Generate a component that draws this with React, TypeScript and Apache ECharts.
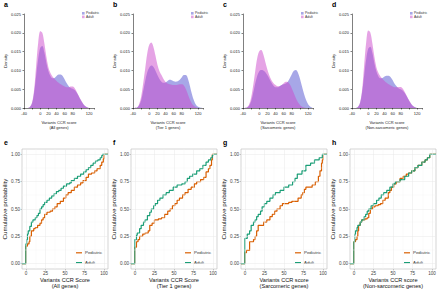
import React, { useEffect, useRef } from "react";
import * as echarts from "echarts";

// ---------- Density panels (a-d) ----------
const densityX = [-35, -30, -25, -20, -15, -10, -5, 0, 5, 10, 15, 20, 25, 30, 35, 40, 45, 50, 55, 60, 65, 70, 75, 80, 85, 90, 95, 100, 105, 110, 115, 120, 125, 130];

const aPediatric = [0, 0, 0.0003, 0.0013, 0.0042, 0.0088, 0.0132, 0.016, 0.0165, 0.0148, 0.012, 0.0098, 0.0085, 0.0079, 0.008, 0.0085, 0.0089, 0.0089, 0.0085, 0.0076, 0.0066, 0.0058, 0.0053, 0.0051, 0.0047, 0.004, 0.003, 0.002, 0.0011, 0.0005, 0.0002, 0, 0, 0];
const aAdult = [0, 0, 0.0003, 0.0015, 0.005, 0.0115, 0.0175, 0.0204, 0.02, 0.0172, 0.0136, 0.0108, 0.0093, 0.0084, 0.0077, 0.0072, 0.0067, 0.0063, 0.006, 0.0057, 0.0055, 0.0055, 0.0057, 0.0057, 0.0052, 0.0042, 0.0031, 0.0021, 0.0012, 0.0005, 0.0002, 0, 0, 0];

const bPediatric = [0, 0.0001, 0.0007, 0.002, 0.0045, 0.0072, 0.0095, 0.0108, 0.0113, 0.011, 0.01, 0.0088, 0.0077, 0.007, 0.0067, 0.0068, 0.0072, 0.0075, 0.0074, 0.0071, 0.007, 0.0071, 0.0075, 0.0082, 0.0088, 0.0088, 0.0078, 0.0058, 0.0036, 0.0019, 0.0008, 0.0003, 0.0001, 0];
const bAdult = [0, 0.0001, 0.001, 0.003, 0.0065, 0.0105, 0.0145, 0.0168, 0.0174, 0.0163, 0.014, 0.0115, 0.0098, 0.0088, 0.0077, 0.0069, 0.0065, 0.0063, 0.0062, 0.0061, 0.0061, 0.0062, 0.0063, 0.0063, 0.006, 0.005, 0.0036, 0.0022, 0.0011, 0.0005, 0.0002, 0, 0, 0];

const cPediatric = [0, 0.0001, 0.0006, 0.0018, 0.004, 0.0065, 0.0086, 0.0098, 0.0101, 0.01, 0.0095, 0.0087, 0.0077, 0.0067, 0.0059, 0.0055, 0.0055, 0.0058, 0.0061, 0.0063, 0.0065, 0.007, 0.0079, 0.009, 0.0099, 0.0101, 0.0094, 0.0078, 0.0057, 0.0037, 0.0021, 0.001, 0.0004, 0.0001];
const cAdult = [0, 0.0002, 0.0009, 0.0028, 0.006, 0.0098, 0.0133, 0.0151, 0.0154, 0.0142, 0.0122, 0.0102, 0.0086, 0.0074, 0.0066, 0.0061, 0.0058, 0.0058, 0.0061, 0.0066, 0.007, 0.0069, 0.0063, 0.0052, 0.0039, 0.0026, 0.0015, 0.0008, 0.0003, 0.0001, 0, 0, 0, 0];

const dPediatric = [0, 0, 0.0003, 0.0014, 0.0043, 0.0088, 0.0131, 0.0158, 0.0163, 0.0147, 0.0119, 0.0097, 0.0084, 0.0079, 0.008, 0.0084, 0.0086, 0.0086, 0.0082, 0.0074, 0.0064, 0.0057, 0.0052, 0.005, 0.0046, 0.0039, 0.003, 0.002, 0.0011, 0.0005, 0.0002, 0, 0, 0];
const dAdult = [0, 0, 0.0003, 0.0015, 0.005, 0.0116, 0.0176, 0.0206, 0.0201, 0.0172, 0.0136, 0.0108, 0.0093, 0.0084, 0.0077, 0.0072, 0.0067, 0.0063, 0.006, 0.0057, 0.0055, 0.0055, 0.0056, 0.0056, 0.0051, 0.0042, 0.0031, 0.0021, 0.0012, 0.0005, 0.0002, 0, 0, 0];

const densityTickLabels = [-40, 0, 20, 40, 60, 80, 120];

// ---------- ECDF panels (e-h) ----------
const ePediatric = [[-5, 0], [0, 0.16], [2, 0.18], [4, 0.2], [5, 0.25], [7, 0.3], [10, 0.32], [12, 0.33], [15, 0.35], [18, 0.37], [20, 0.4], [22, 0.42], [24, 0.45], [27, 0.47], [31, 0.48], [34, 0.5], [37, 0.52], [40, 0.55], [44, 0.57], [48, 0.6], [51, 0.63], [54, 0.65], [58, 0.67], [62, 0.7], [66, 0.72], [70, 0.74], [73, 0.76], [77, 0.79], [80, 0.82], [84, 0.83], [88, 0.85], [91, 0.87], [95, 0.9], [97, 0.93], [99, 0.96], [100, 1], [105, 1]];
const eAdult = [[-5, 0], [0, 0.18], [1, 0.22], [2, 0.27], [3, 0.3], [5, 0.34], [7, 0.38], [9, 0.4], [12, 0.42], [14, 0.44], [16, 0.46], [18, 0.5], [20, 0.52], [22, 0.54], [24, 0.56], [27, 0.58], [30, 0.6], [33, 0.62], [36, 0.64], [39, 0.66], [42, 0.67], [45, 0.69], [48, 0.71], [52, 0.73], [56, 0.74], [58, 0.76], [62, 0.78], [66, 0.8], [70, 0.82], [74, 0.84], [77, 0.86], [80, 0.88], [83, 0.9], [86, 0.92], [89, 0.94], [92, 0.95], [95, 0.97], [97, 0.99], [98, 1], [105, 1]];

const fPediatric = [[-5, 0], [0, 0.15], [2, 0.2], [4, 0.22], [6, 0.25], [10, 0.27], [13, 0.28], [17, 0.3], [19, 0.35], [22, 0.37], [25, 0.4], [30, 0.41], [34, 0.42], [38, 0.45], [42, 0.48], [45, 0.5], [48, 0.53], [51, 0.55], [54, 0.58], [57, 0.6], [61, 0.63], [64, 0.65], [68, 0.68], [72, 0.7], [76, 0.73], [79, 0.75], [84, 0.77], [88, 0.79], [91, 0.84], [94, 0.87], [96, 0.9], [98, 0.95], [99, 1], [105, 1]];
const fAdult = [[-5, 0], [0, 0.22], [2, 0.26], [3, 0.28], [6, 0.32], [8, 0.35], [11, 0.38], [13, 0.4], [16, 0.44], [19, 0.47], [21, 0.5], [24, 0.53], [26, 0.55], [29, 0.58], [32, 0.6], [36, 0.63], [40, 0.65], [44, 0.67], [49, 0.7], [54, 0.72], [60, 0.73], [64, 0.75], [67, 0.78], [70, 0.8], [74, 0.82], [79, 0.85], [83, 0.87], [87, 0.9], [91, 0.93], [94, 0.95], [97, 0.97], [99, 0.99], [100, 1], [105, 1]];

const gPediatric = [[-5, 0], [0, 0.1], [2, 0.12], [6, 0.2], [11, 0.22], [13, 0.25], [15, 0.3], [17, 0.35], [24, 0.38], [28, 0.4], [32, 0.43], [35, 0.45], [38, 0.48], [41, 0.5], [45, 0.53], [48, 0.55], [56, 0.56], [60, 0.57], [68, 0.6], [72, 0.63], [74, 0.65], [76, 0.68], [78, 0.7], [86, 0.72], [90, 0.75], [94, 0.8], [96, 0.85], [98, 0.92], [99, 0.95], [100, 1], [105, 1]];
const gAdult = [[-5, 0], [0, 0.23], [3, 0.27], [6, 0.3], [8, 0.35], [11, 0.38], [13, 0.4], [15, 0.43], [17, 0.45], [20, 0.48], [22, 0.52], [25, 0.55], [28, 0.57], [32, 0.6], [36, 0.63], [39, 0.65], [45, 0.67], [50, 0.7], [56, 0.72], [61, 0.75], [64, 0.78], [67, 0.82], [73, 0.85], [78, 0.9], [84, 0.92], [89, 0.95], [95, 0.97], [99, 1], [105, 1]];

const hPediatric = [[-5, 0], [0, 0.2], [2, 0.22], [4, 0.25], [5, 0.3], [6, 0.35], [8, 0.38], [10, 0.4], [14, 0.41], [17, 0.42], [19, 0.46], [21, 0.5], [24, 0.52], [27, 0.53], [31, 0.54], [34, 0.55], [37, 0.58], [40, 0.6], [44, 0.65], [46, 0.67], [48, 0.7], [51, 0.73], [54, 0.75], [59, 0.78], [63, 0.8], [67, 0.82], [70, 0.83], [74, 0.85], [78, 0.88], [82, 0.9], [87, 0.93], [91, 0.95], [94, 0.97], [97, 1], [105, 1]];
const hAdult = [[-5, 0], [0, 0.2], [1, 0.27], [2, 0.3], [4, 0.33], [5, 0.35], [8, 0.38], [10, 0.4], [13, 0.43], [15, 0.45], [17, 0.48], [19, 0.5], [22, 0.53], [25, 0.55], [29, 0.58], [32, 0.6], [35, 0.63], [38, 0.65], [42, 0.67], [46, 0.7], [50, 0.73], [53, 0.75], [59, 0.77], [65, 0.8], [70, 0.83], [74, 0.85], [78, 0.88], [82, 0.9], [87, 0.93], [91, 0.95], [94, 0.97], [97, 1], [105, 1]];

const ecdfXTicks = [0, 25, 50, 75, 100];
const ecdfYTicks = [0, 0.25, 0.5, 0.75, 1];
const ecdfXMinor = [12.5, 37.5, 62.5, 87.5];
const ecdfYMinor = [0.125, 0.375, 0.625, 0.875];

const topPanels = [
  { letter: "a", sub: "(All genes)", ped: aPediatric, adult: aAdult },
  { letter: "b", sub: "(Tier 1 genes)", ped: bPediatric, adult: bAdult },
  { letter: "c", sub: "(Sarcomeric genes)", ped: cPediatric, adult: cAdult },
  { letter: "d", sub: "(Non-sarcomeric genes)", ped: dPediatric, adult: dAdult },
];
const bottomPanels = [
  { letter: "e", title: "Variants CCR Score", sub: "(All genes)", ped: ePediatric, adult: eAdult },
  { letter: "f", title: "Variants CCR Score", sub: "(Tier 1 genes)", ped: fPediatric, adult: fAdult },
  { letter: "g", title: "Variants CCR score", sub: "(Sarcomeric genes)", ped: gPediatric, adult: gAdult },
  { letter: "h", title: "Variants CCR score", sub: "(Non-sarcomeric genes)", ped: hPediatric, adult: hAdult },
];

const FONT = "Liberation Sans, Arial, Helvetica, sans-serif";
const COL = [0, 109, 219, 328];
const PED_FILL = "#5050d0";
const ADULT_FILL = "#cc48cc";
const PED_LINE = "#D95F02";
const ADULT_LINE = "#1B9E77";

export default function App() {
  const ref = useRef<HTMLDivElement>(null);
  useEffect(() => {
    if (!ref.current) return;
    const chart = echarts.init(ref.current, null, { renderer: "svg" });
    const grid: any[] = [];
    const xAxis: any[] = [];
    const yAxis: any[] = [];
    const series: any[] = [];
    const graphic: any[] = [];

    topPanels.forEach((p, i) => {
      const off = COL[i];
      const gi = grid.length;
      grid.push({ left: 24 + off, top: 14, width: 70, height: 94 });
      xAxis.push({
        gridIndex: gi, type: "value", min: -40, max: 132, interval: 20,
        name: "Variants CCR score\n" + p.sub, nameLocation: "middle", nameGap: 12.5,
        nameTextStyle: { fontSize: 4, fontFamily: FONT, color: "#222", lineHeight: 4.6 },
        axisLine: { onZero: false, lineStyle: { color: "#000", width: 0.5 } },
        axisTick: { length: 1.5, lineStyle: { color: "#000", width: 0.5 } },
        axisLabel: {
          fontSize: 4, fontFamily: FONT, color: "#222", margin: 3,
          formatter: (v: number) => (densityTickLabels.includes(v) ? String(v) : ""),
        },
        splitLine: { show: false },
      });
      yAxis.push({
        gridIndex: gi, type: "value", min: 0, max: 0.025, interval: 0.005,
        name: "Density", nameLocation: "middle", nameGap: 16, nameRotate: 90,
        nameTextStyle: { fontSize: 4.2, fontFamily: FONT, color: "#222" },
        axisLine: { show: true, onZero: false, lineStyle: { color: "#000", width: 0.5 } },
        axisTick: { show: true, length: 1.5, lineStyle: { color: "#000", width: 0.5 } },
        axisLabel: { fontSize: 4, fontFamily: FONT, color: "#222", margin: 3, formatter: (v: number) => v.toFixed(3) },
        splitLine: { show: false },
      });
      const mk = (name: string, vals: number[], color: string) => ({
        name, type: "line", xAxisIndex: gi, yAxisIndex: gi,
        data: densityX.map((x, k) => [x, vals[k]]),
        smooth: 0.35, showSymbol: false, symbol: "none",
        lineStyle: { width: 0 }, areaStyle: { color, opacity: 0.5 },
        silent: true,
      });
      series.push(mk("Pediatric", p.ped, PED_FILL));
      series.push(mk("Adult", p.adult, ADULT_FILL));
      graphic.push({ type: "text", left: 4 + off, top: 1, style: { text: p.letter, font: `bold 7px ${FONT}`, fill: "#000" } });
      graphic.push({ type: "rect", shape: { x: 82 + off, y: 12, width: 2.6, height: 2.6 }, style: { fill: PED_FILL, opacity: 0.5 } });
      graphic.push({ type: "rect", shape: { x: 82 + off, y: 15.6, width: 2.6, height: 2.6 }, style: { fill: ADULT_FILL, opacity: 0.5 } });
      graphic.push({ type: "text", x: 86 + off, y: 13.3, style: { text: "Pediatric", font: `3.4px ${FONT}`, fill: "#333", verticalAlign: "middle" } });
      graphic.push({ type: "text", x: 86 + off, y: 16.9, style: { text: "Adult", font: `3.4px ${FONT}`, fill: "#333", verticalAlign: "middle" } });
    });

    bottomPanels.forEach((p, i) => {
      const off = COL[i];
      const gi = grid.length;
      grid.push({ left: 22 + off, top: 149, width: 86, height: 120, show: true, borderColor: "#b8b8b8", borderWidth: 0.6, backgroundColor: "#fff" });
      xAxis.push({
        gridIndex: gi, type: "value", min: -5, max: 105,
        name: p.title + "\n" + p.sub, nameLocation: "middle", nameGap: 7,
        nameTextStyle: { fontSize: 5.6, fontFamily: FONT, color: "#111", lineHeight: 6 },
        axisLine: { show: false, onZero: false },
        axisTick: { show: true, length: 1.5, lineStyle: { color: "#999", width: 0.5 }, customValues: ecdfXTicks },
        axisLabel: { fontSize: 4.6, fontFamily: FONT, color: "#444", margin: 2, customValues: ecdfXTicks },
        splitLine: { show: false },
      });
      yAxis.push({
        gridIndex: gi, type: "value", min: -0.05, max: 1.05,
        name: "Cumulative probability", nameLocation: "middle", nameGap: 13, nameRotate: 90,
        nameTextStyle: { fontSize: 6.2, fontFamily: FONT, color: "#111" },
        axisLine: { show: false, onZero: false },
        axisTick: { show: true, length: 1.5, lineStyle: { color: "#999", width: 0.5 }, customValues: ecdfYTicks },
        axisLabel: { fontSize: 4.6, fontFamily: FONT, color: "#444", margin: 2, customValues: ecdfYTicks, formatter: (v: number) => v.toFixed(2) },
        splitLine: { show: false },
      });
      series.push({
        type: "line", xAxisIndex: gi, yAxisIndex: gi, data: [[-5, 0]], symbol: "none",
        lineStyle: { width: 0 }, silent: true, z: 1,
        markLine: {
          silent: true, symbol: ["none", "none"], label: { show: false }, animation: false,
          data: [
            ...ecdfXMinor.map((v) => ({ xAxis: v, lineStyle: { color: "#f4f4f4", width: 0.4, type: "solid" } })),
            ...ecdfYMinor.map((v) => ({ yAxis: v, lineStyle: { color: "#f4f4f4", width: 0.4, type: "solid" } })),
            ...ecdfXTicks.map((v) => ({ xAxis: v, lineStyle: { color: "#e8e8e8", width: 0.5, type: "solid" } })),
            ...ecdfYTicks.map((v) => ({ yAxis: v, lineStyle: { color: "#e8e8e8", width: 0.5, type: "solid" } })),
          ],
        },
      });
      const mk = (name: string, pts: number[][], color: string) => ({
        name, type: "line", xAxisIndex: gi, yAxisIndex: gi, data: pts, step: "end",
        showSymbol: false, symbol: "none", lineStyle: { width: 1.2, color }, itemStyle: { color }, z: 3, silent: true,
      });
      series.push(mk("Pediatric", p.ped, PED_LINE));
      series.push(mk("Adult", p.adult, ADULT_LINE));
      graphic.push({ type: "text", left: 4 + off, top: 139, style: { text: p.letter, font: `bold 7px ${FONT}`, fill: "#000" } });
      graphic.push({ type: "line", shape: { x1: 76 + off, y1: 252.8, x2: 82 + off, y2: 252.8 }, style: { stroke: PED_LINE, lineWidth: 1.2 } });
      graphic.push({ type: "line", shape: { x1: 76 + off, y1: 262.6, x2: 82 + off, y2: 262.6 }, style: { stroke: ADULT_LINE, lineWidth: 1.2 } });
      graphic.push({ type: "text", x: 85 + off, y: 252.8, style: { text: "Pediatric", font: `4.4px ${FONT}`, fill: "#333", verticalAlign: "middle" } });
      graphic.push({ type: "text", x: 85 + off, y: 262.6, style: { text: "Adult", font: `4.4px ${FONT}`, fill: "#333", verticalAlign: "middle" } });
    });

    chart.setOption({ animation: false, backgroundColor: "#fff", grid, xAxis, yAxis, series, graphic });
    return () => chart.dispose();
  }, []);
  return <div ref={ref} style={{ position: "fixed", left: 0, top: 0, width: 440, height: 291 }} />;
}
